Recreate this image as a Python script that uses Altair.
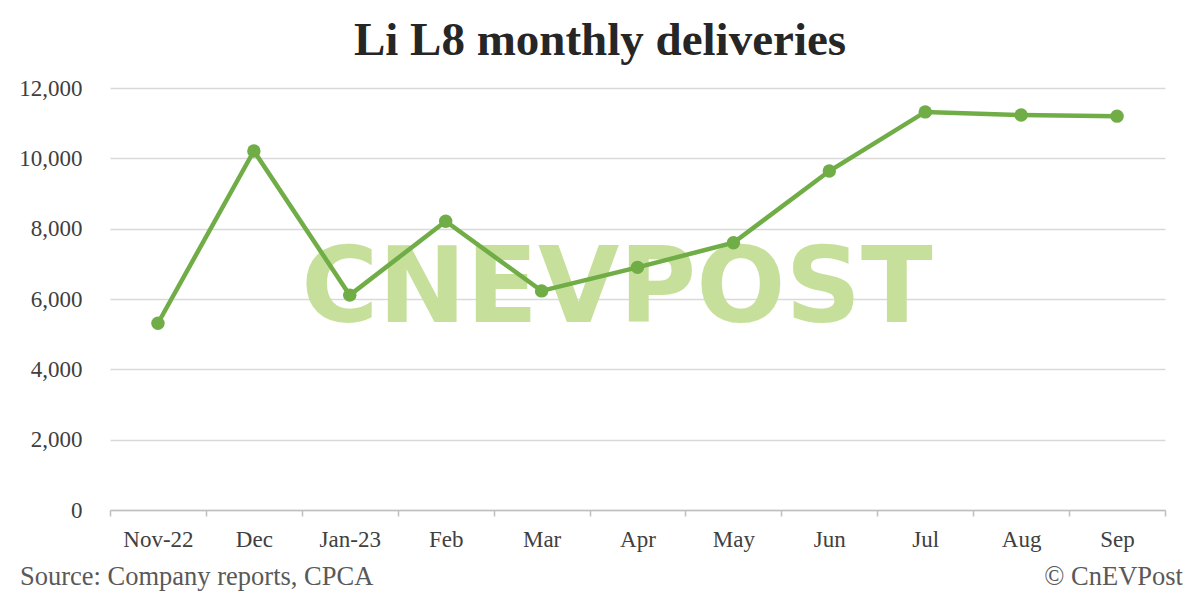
import altair as alt
import pandas as pd

months = ["Nov-22", "Dec", "Jan-23", "Feb", "Mar", "Apr", "May", "Jun", "Jul", "Aug", "Sep"]
deliveries = [5310, 10210, 6110, 8210, 6230, 6900, 7600, 9640, 11320, 11230, 11200]
y_ticks = [0, 2000, 4000, 6000, 8000, 10000, 12000]

df = pd.DataFrame({"month": months, "deliveries": deliveries})

FONT = "Liberation Serif"
GREEN = "#70ad47"

x_enc = alt.X(
    "month:N", sort=months, title=None, bandPosition=0.5,
    scale=alt.Scale(type="band", paddingInner=0, paddingOuter=0),
    axis=alt.Axis(labelAngle=0, labelFont=FONT, labelFontSize=23, labelColor="#404040",
                  labelPadding=12, tickBand="extent", tickSize=6, tickColor="#bfbfbf",
                  domainColor="#bfbfbf", domainWidth=1.5, tickWidth=1.5, grid=False),
)
y_enc = alt.Y(
    "deliveries:Q", title=None,
    scale=alt.Scale(domain=[0, 12000], nice=False),
    axis=alt.Axis(values=y_ticks, format=",.0f", labelFont=FONT, labelFontSize=23,
                  labelColor="#404040", labelPadding=28, domain=False, ticks=False,
                  grid=True, gridColor="#d9d9d9", gridWidth=1.5),
)


def label(txt):
    return alt.Chart(pd.DataFrame({"t": [txt]}))


watermark = label("CNEVPOST").mark_text(
    font="DejaVu Sans", fontWeight="bold", fontSize=105,
    color="#c6e09b", align="center", baseline="middle",
).encode(text="t:N", x=alt.value(507), y=alt.value(202))

line = alt.Chart(df).mark_line(color=GREEN, strokeWidth=4.5).encode(x=x_enc, y=y_enc)
points = alt.Chart(df).mark_point(filled=True, color=GREEN, size=180, opacity=1).encode(x=x_enc, y=y_enc)

title = label("Li L8 monthly deliveries").mark_text(
    font=FONT, fontWeight="bold", fontSize=47,
    color="#262626", align="center", baseline="alphabetic",
).encode(text="t:N", x=alt.value(490), y=alt.value(-33))

source = label("Source: Company reports, CPCA").mark_text(
    font=FONT, fontSize=26.5,
    color="#595959", align="left", baseline="alphabetic",
).encode(text="t:N", x=alt.value(-90), y=alt.value(497))

copyright_ = label("© CnEVPost").mark_text(
    font=FONT, fontSize=26.5,
    color="#595959", align="right", baseline="alphabetic",
).encode(text="t:N", x=alt.value(1073), y=alt.value(497))

chart = alt.layer(watermark, line, points, title, source, copyright_).properties(
    width=1055, height=422,
    autosize=alt.AutoSizeParams(type="none"),
    padding={"left": 102, "top": 80, "right": 27, "bottom": 83},
    background="white",
).configure_view(stroke=None)

chart.save("out.html", embed_options={"renderer": "svg", "actions": False})
